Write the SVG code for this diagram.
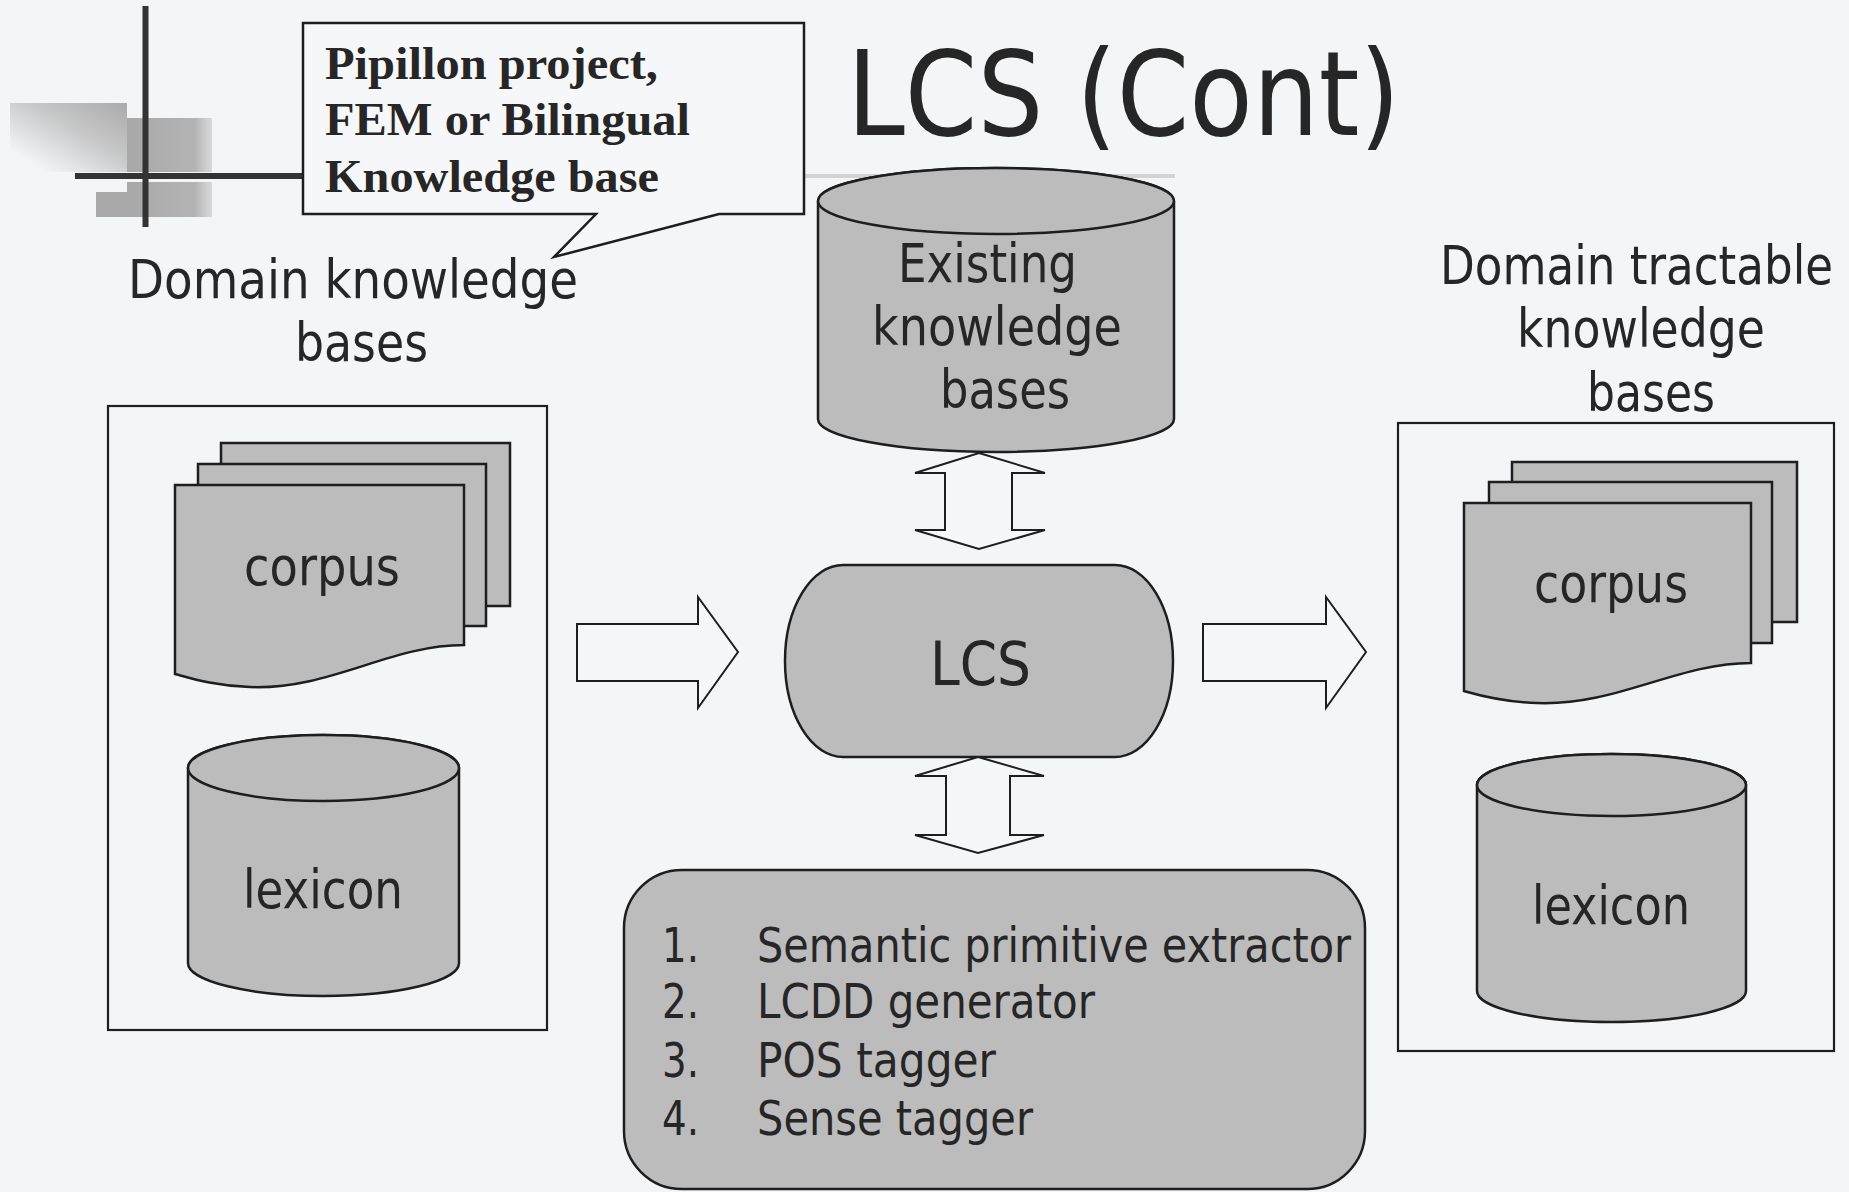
<svg xmlns="http://www.w3.org/2000/svg" width="1849" height="1192" viewBox="0 0 1849 1192">
<defs>
<style>
.bg{fill:#f4f5f7}
.shape{fill:#bcbcbc;stroke:#1e1e1e;stroke-width:2.5}
.box{fill:none;stroke:#1e1e1e;stroke-width:2.2}
.arrow{fill:#f6f7f9;stroke:#1e1e1e;stroke-width:2}
.t{font-family:"DejaVu Sans","Liberation Sans",sans-serif;fill:#262626}
.lbl{font-size:53px}
.lst{font-size:48px}
.cap{font-family:"Liberation Serif","Times New Roman",serif;font-weight:bold;font-size:47px;fill:#262626}
.cross{stroke:#333;stroke-width:6}
</style>
<linearGradient id="fadeL" x1="0" y1="1" x2="1" y2="0">
<stop offset="0.15" stop-color="#a8a8a8" stop-opacity="0"/>
<stop offset="0.6" stop-color="#a8a8a8" stop-opacity="0.6"/>
<stop offset="1" stop-color="#a6a6a6" stop-opacity="0.95"/>
</linearGradient>
<linearGradient id="fadeR" x1="0" y1="0" x2="1" y2="0">
<stop offset="0" stop-color="#a4a4a4" stop-opacity="0.95"/>
<stop offset="0.8" stop-color="#a8a8a8" stop-opacity="0.85"/>
<stop offset="1" stop-color="#b0b0b0" stop-opacity="0.4"/>
</linearGradient>
</defs>
<rect class="bg" x="0" y="0" width="1849" height="1192"/>

<g id="decoration">
<rect x="10" y="103" width="117" height="69" fill="url(#fadeL)"/>
<rect x="127" y="118" width="85" height="54" fill="url(#fadeR)"/>
<rect x="96" y="192" width="31" height="25" fill="#a9a9a9"/>
<rect x="127" y="182" width="85" height="35" fill="url(#fadeR)"/>
<line x1="804" y1="176" x2="1175" y2="176" stroke="#d3d3d3" stroke-width="4"/>
<line class="cross" x1="145.5" y1="6" x2="145.5" y2="227"/>
<line class="cross" x1="75" y1="176" x2="304" y2="176"/>
</g>

<g id="title">
<text class="t" x="847" y="135" font-size="118" textLength="553" lengthAdjust="spacingAndGlyphs">LCS (Cont)</text>
</g>

<g id="callout">
<path d="M303,23 H804 V214 H719 L554,257 L596,214 H303 Z" fill="#f6f7f9" stroke="#1e1e1e" stroke-width="2.5"/>
<text class="cap" x="325" y="79" textLength="333" lengthAdjust="spacingAndGlyphs">Pipillon project,</text>
<text class="cap" x="325" y="135" textLength="365" lengthAdjust="spacingAndGlyphs">FEM or Bilingual</text>
<text class="cap" x="325" y="192" textLength="334" lengthAdjust="spacingAndGlyphs">Knowledge base</text>
</g>

<g id="domain-kb-label">
<text class="t lbl" x="128" y="298" textLength="450" lengthAdjust="spacingAndGlyphs">Domain knowledge</text>
<text class="t lbl" x="295" y="361" textLength="133" lengthAdjust="spacingAndGlyphs">bases</text>
</g>

<g id="domain-kb">
<rect class="box" x="108" y="406" width="439" height="624"/>
</g>

<g id="corpus-left">
<rect class="shape" x="221" y="443" width="289" height="163"/>
<rect class="shape" x="198" y="464" width="288" height="162"/>
<path class="shape" d="M175,485 H464 V645 C390,645 330,690 250,687 C215,686 190,678 175,674 Z"/>
<text class="t lbl" x="244" y="585" textLength="156" lengthAdjust="spacingAndGlyphs">corpus</text>
</g>

<g id="lexicon-left">
<path class="shape" d="M188,768 V963 A135.5,33 0 0 0 459,963 V768 A135.5,33 0 0 0 188,768 Z"/>
<ellipse class="shape" cx="323.5" cy="768" rx="135.5" ry="33"/>
<text class="t lbl" x="243" y="908" textLength="160" lengthAdjust="spacingAndGlyphs">lexicon</text>
</g>

<g id="existing-kb">
<path class="shape" d="M818,201 V419 A178,33 0 0 0 1174,419 V201 A178,33 0 0 0 818,201 Z"/>
<ellipse class="shape" cx="996" cy="201" rx="178" ry="33"/>
<text class="t lbl" x="898" y="282" textLength="179" lengthAdjust="spacingAndGlyphs">Existing</text>
<text class="t lbl" x="872" y="345" textLength="250" lengthAdjust="spacingAndGlyphs">knowledge</text>
<text class="t lbl" x="940" y="408" textLength="130" lengthAdjust="spacingAndGlyphs">bases</text>
</g>

<g id="lcs">
<rect class="shape" x="785" y="565" width="388" height="192" rx="58" ry="96"/>
<text class="t" x="930" y="685" font-size="60" textLength="101" lengthAdjust="spacingAndGlyphs">LCS</text>
</g>

<g id="tools">
<rect class="shape" x="624" y="870" width="741" height="319" rx="58" ry="58"/>
<text class="t lst" x="662" y="962" textLength="37" lengthAdjust="spacingAndGlyphs">1.</text>
<text class="t lst" x="757" y="962" textLength="594" lengthAdjust="spacingAndGlyphs">Semantic primitive extractor</text>
<text class="t lst" x="662" y="1018" textLength="37" lengthAdjust="spacingAndGlyphs">2.</text>
<text class="t lst" x="757" y="1018" textLength="338" lengthAdjust="spacingAndGlyphs">LCDD generator</text>
<text class="t lst" x="662" y="1077" textLength="37" lengthAdjust="spacingAndGlyphs">3.</text>
<text class="t lst" x="757" y="1077" textLength="239" lengthAdjust="spacingAndGlyphs">POS tagger</text>
<text class="t lst" x="662" y="1135" textLength="37" lengthAdjust="spacingAndGlyphs">4.</text>
<text class="t lst" x="757" y="1135" textLength="276" lengthAdjust="spacingAndGlyphs">Sense tagger</text>
</g>

<g id="tractable-kb-label">
<text class="t lbl" transform="translate(1440,284) scale(0.8525,1)" x="0" y="0" textLength="461" lengthAdjust="spacingAndGlyphs">Domain tractable</text>
<text class="t lbl" x="1517" y="347" textLength="248" lengthAdjust="spacingAndGlyphs">knowledge</text>
<text class="t lbl" x="1587" y="411" textLength="128" lengthAdjust="spacingAndGlyphs">bases</text>
</g>

<g id="tractable-kb">
<rect class="box" x="1398" y="423" width="436" height="628"/>
</g>

<g id="corpus-right">
<rect class="shape" x="1512" y="462" width="285" height="160"/>
<rect class="shape" x="1489" y="482" width="283" height="161"/>
<path class="shape" d="M1464,503 H1751 V663 C1677,663 1617,706 1537,703 C1502,702 1478,695 1464,691 Z"/>
<text class="t lbl" x="1534" y="602" textLength="154" lengthAdjust="spacingAndGlyphs">corpus</text>
</g>

<g id="lexicon-right">
<path class="shape" d="M1477,785 V991 A134.5,31 0 0 0 1746,991 V785 A134.5,31 0 0 0 1477,785 Z"/>
<ellipse class="shape" cx="1611.5" cy="785" rx="134.5" ry="31"/>
<text class="t lbl" x="1532" y="924" textLength="158" lengthAdjust="spacingAndGlyphs">lexicon</text>
</g>

<g id="connectors">
<polygon class="arrow" points="577,624 698,624 698,597 738,652 698,708 698,681 577,681"/>
<polygon class="arrow" points="1203,624 1326,624 1326,597 1366,652 1326,708 1326,681 1203,681"/>
<polygon class="arrow" points="979,453 1045,473 1012,473 1012,530 1045,530 979,549 915,530 945,530 945,473 915,473"/>
<polygon class="arrow" points="978,757 1044,776 1010,776 1010,835 1044,835 978,853 915,835 946,835 946,776 915,776"/>
</g>
</svg>
